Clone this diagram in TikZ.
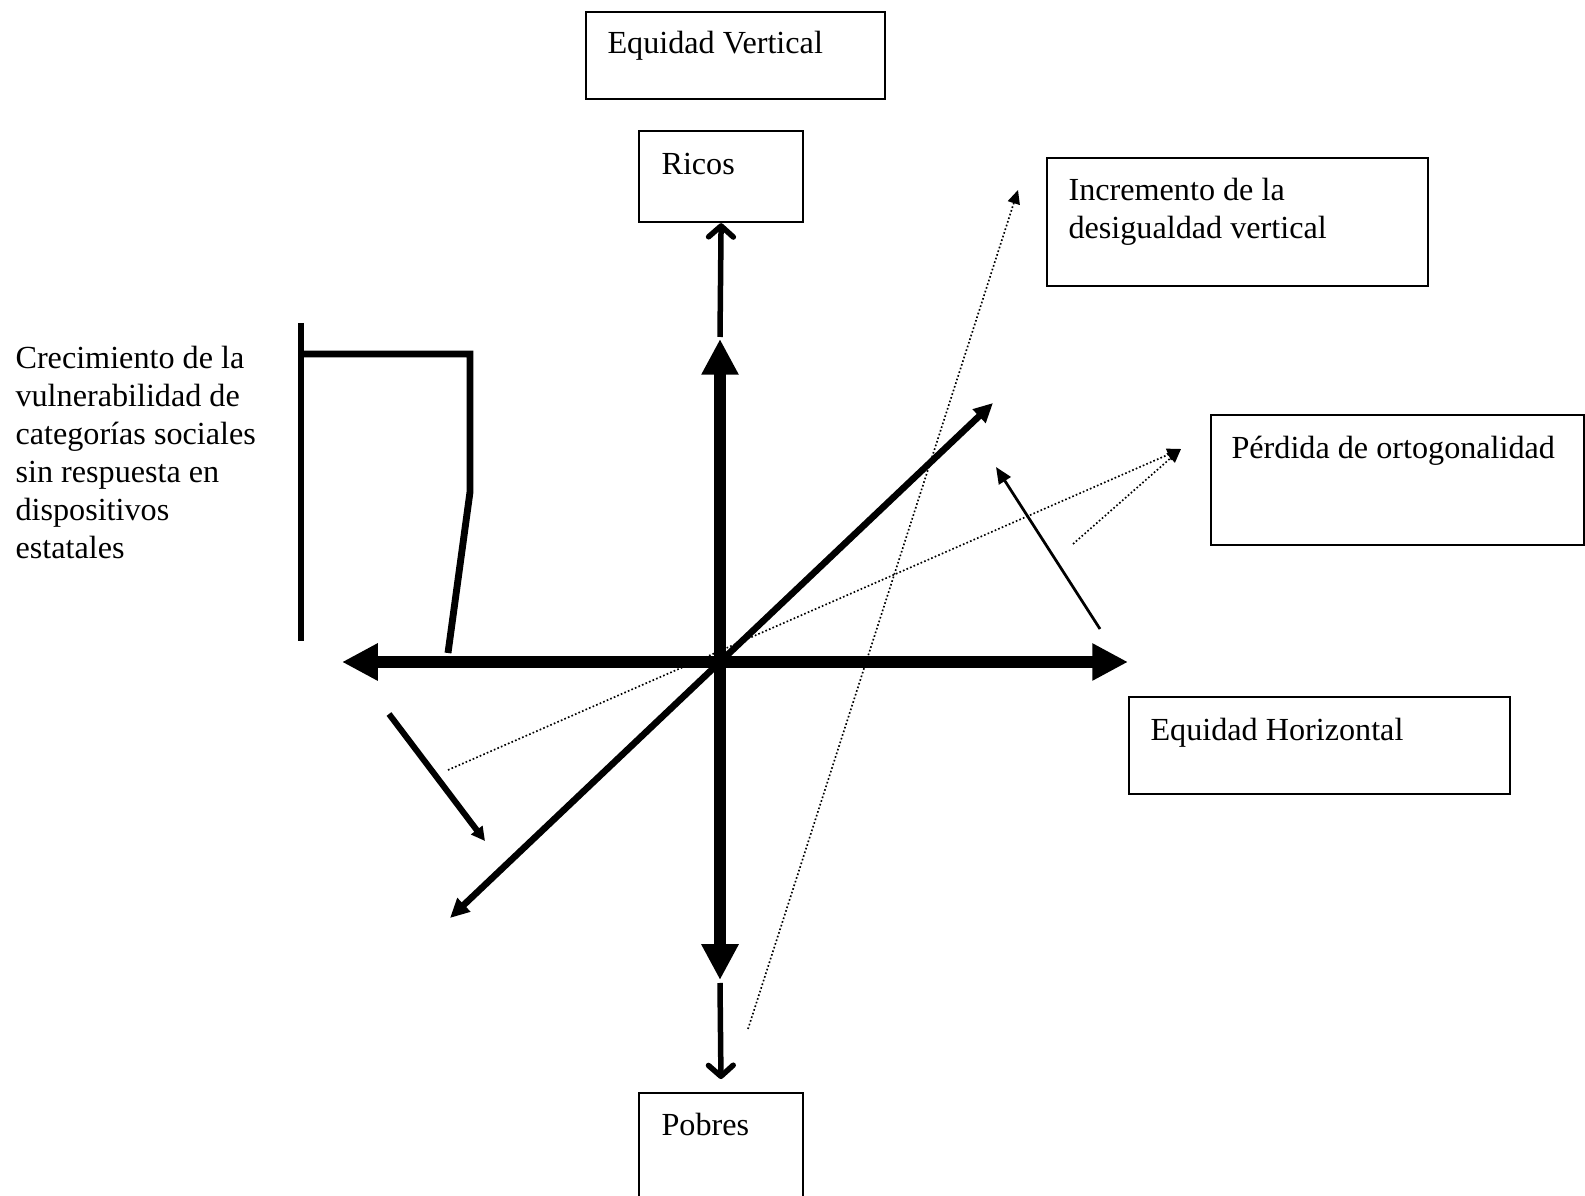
\documentclass[tikz,border=0pt]{standalone}
\usepackage{fontspec}
\setmainfont{Liberation Serif}
\usetikzlibrary{arrows.meta}
\newlength\pxu
\setlength\pxu{0.3636pt}
\tikzset{
    >=Stealth,
    eq/.style={
        box/.append style={draw,line width=0.8pt,rectangle,anchor=north west,inner sep=0pt},
        lbl/.append style={anchor=base west,inner sep=0pt,align=left,font=\fontsize{11.7}{13.85}\selectfont},
        axis/.append style={line width=4.4pt,{Triangle[length=13pt,width=12.7pt]}-{Triangle[length=13pt,width=12.7pt]}},
        stem/.append style={line width=2pt,-{Straight Barb[length=4pt,width=9pt,round]}},
        diagonal/.append style={line width=2.4pt,{Triangle[length=7pt,width=6.5pt]}-{Triangle[length=7pt,width=6.5pt]}},
        trend/.append style={line width=0.6pt,dash pattern=on 0.6pt off 0.8pt,-{Triangle[length=5pt,width=4.5pt]}},
        hint/.append style={line width=1pt,-{Triangle[length=6pt,width=5pt]}},
        drift/.append style={line width=2.2pt,-{Triangle[length=5pt,width=5pt]}},
        bracket/.append style={line width=2.5pt}
    }
}

\begin{document}
\begin{tikzpicture}[eq,x=0.3636pt,y=-0.3636pt]
    \useasboundingbox (0,0) rectangle (1585,1196);
    % boxes
    \node[box,minimum width=299\pxu,minimum height=87\pxu] (ev) at (585,11) {};
    \node[box,minimum width=164\pxu,minimum height=91\pxu] (ricos) at (638,130) {};
    \node[box,minimum width=381\pxu,minimum height=128\pxu] (incr) at (1046,157) {};
    \node[box,minimum width=373\pxu,minimum height=130\pxu] (perd) at (1210,414) {};
    \node[box,minimum width=381\pxu,minimum height=97\pxu] (eh) at (1128,696) {};
    \node[box,minimum width=164\pxu,minimum height=106\pxu] (pobres) at (638,1092) {};
    % texts
    \node[lbl] (evt) at (607,54) {Equidad Vertical};
    \node[lbl] (ricost) at (661,175) {Ricos};
    \node[lbl] (incrt) at (1068,239) {Incremento de la\\desigualdad vertical};
    \node[lbl] (perdt) at (1231,459) {Pérdida de ortogonalidad};
    \node[lbl] (eht) at (1150,741) {Equidad Horizontal};
    \node[lbl] (pobrest) at (661,1136) {Pobres};
    \node[lbl] (vuln) at (15,559) {Crecimiento de la\\vulnerabilidad de\\categorías sociales\\sin respuesta en\\dispositivos\\estatales};
    % axes
    \coordinate (o) at (720,662);
    \coordinate (vtop) at (720,339);
    \coordinate (vbot) at (720,980);
    \coordinate (hl) at (342,662);
    \coordinate (hr) at (1128,662);
    \coordinate (rs) at (720,337);
    \coordinate (ps) at (720,983);
    \draw[axis] (vbot) -- (vtop);
    \draw[axis] (hl) -- (hr);
    \draw[stem] (rs) -- (ricos.south);
    \draw[stem,shorten >=4.7pt] (ps) -- (pobres.north);
    % diagonal
    \coordinate (dl) at (450,918);
    \coordinate (dr) at (993,403);
    \draw[diagonal] (dl) -- (dr);
    % dotted
    \coordinate (a1) at (748,1029);
    \coordinate (a2) at (1018,190);
    \coordinate (b1) at (448,770);
    \coordinate (c1) at (1073,544);
    \coordinate (pk) at (1181,449);
    \draw[trend] (a1) -- (a2);
    \draw[trend] (b1) -- (pk);
    \draw[trend] (c1) -- (pk);
    % others
    \coordinate (h1) at (1100,629);
    \coordinate (h2) at (996,467);
    \draw[hint] (h1) -- (h2);
    \coordinate (s1) at (389,714);
    \coordinate (s2) at (485,841);
    \draw[drift] (s1) -- (s2);
    \draw[bracket] (301,323) -- (301,641);
    \draw[bracket,line join=miter] (301,354) -- (470,354) -- (470,492) -- (448,653);
\end{tikzpicture}
\end{document}
